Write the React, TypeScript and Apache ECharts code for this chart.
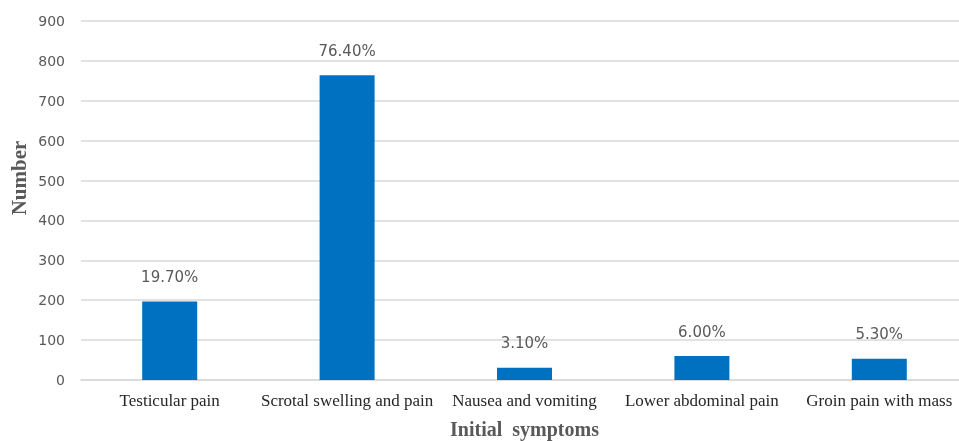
import React, { useEffect, useRef } from "react";
import * as echarts from "echarts";

const categories = [
  "Testicular pain",
  "Scrotal swelling and pain",
  "Nausea and vomiting",
  "Lower abdominal pain",
  "Groin pain with mass",
];
const counts = [197, 764, 31, 60, 53];
const percentLabels = ["19.70%", "76.40%", "3.10%", "6.00%", "5.30%"];
const yTicks = { min: 0, max: 900, interval: 100 };

export default function App() {
  const ref = useRef<HTMLDivElement>(null);
  useEffect(() => {
    if (!ref.current) return;
    const chart = echarts.init(ref.current, undefined, { renderer: "svg" });
    chart.setOption({
      animation: false,
      grid: {
        left: 81,
        right: -9,
        top: 21,
        bottom: 61,
        containLabel: false,
        outerBoundsMode: "none",
      },
      xAxis: {
        type: "category",
        data: categories,
        axisLine: { lineStyle: { color: "#d9d9d9", width: 1.5 } },
        axisTick: { show: false },
        axisLabel: {
          color: "#262626",
          fontFamily: "Liberation Serif",
          fontSize: 17,
          margin: 12,
          interval: 0,
        },
        name: "Initial  symptoms",
        nameLocation: "middle",
        nameGap: 39,
        nameTextStyle: {
          color: "#595959",
          fontFamily: "Liberation Serif",
          fontWeight: "bold",
          fontSize: 20,
        },
      },
      yAxis: {
        type: "value",
        min: yTicks.min,
        max: yTicks.max,
        interval: yTicks.interval,
        axisLine: { show: false },
        axisTick: { show: false },
        splitLine: { lineStyle: { color: "#d9d9d9", width: 1.5 } },
        axisLabel: {
          color: "#595959",
          fontFamily: "DejaVu Sans",
          fontSize: 14,
          margin: 16,
        },
      },
      graphic: [
        {
          type: "text",
          x: 19,
          y: 178,
          rotation: Math.PI / 2,
          style: {
            text: "Number",
            fill: "#595959",
            font: "bold 21px 'Liberation Serif'",
            align: "center",
            verticalAlign: "middle",
          },
        },
      ],
      series: [
        {
          type: "bar",
          data: counts,
          barWidth: 55,
          itemStyle: { color: "#0070c0" },
          label: {
            show: true,
            position: "top",
            distance: 17,
            color: "#595959",
            fontFamily: "DejaVu Sans",
            fontSize: 15,
            formatter: (p: any) => percentLabels[p.dataIndex],
          },
        },
      ],
    });
    return () => chart.dispose();
  }, []);
  return (
    <div
      ref={ref}
      style={{ position: "fixed", left: 0, top: 0, width: 959, height: 441, overflow: "hidden" }}
    />
  );
}
